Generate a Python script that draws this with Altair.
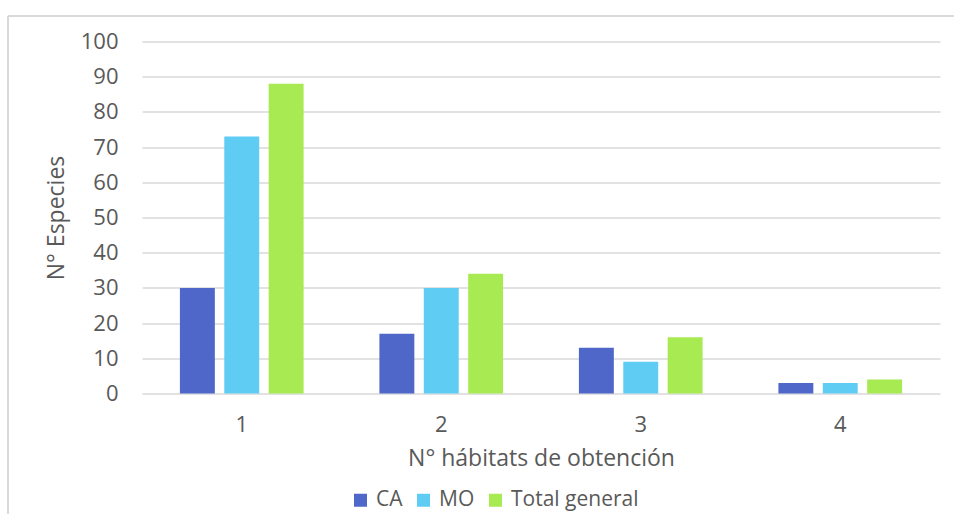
import altair as alt
import pandas as pd

# Number of habitats in which each species was obtained
habitats = ["1", "2", "3", "4"]
series = ["CA", "MO", "Total general"]
ca = [30, 17, 13, 3]
mo = [73, 30, 9, 3]
total = [88, 34, 16, 4]
y_ticks = [0, 10, 20, 30, 40, 50, 60, 70, 80, 90, 100]
colors = ["#4E67C8", "#5ECCF3", "#A7EA52"]

rows = []
for name, vals in zip(series, [ca, mo, total]):
    for h, v in zip(habitats, vals):
        rows.append({"habitats": h, "serie": name, "especies": v})
df = pd.DataFrame(rows)

FONT = "Open Sans"
TXT = "#595959"
GRID = "#D9D9D9"

bars = alt.Chart(df).mark_bar().encode(
    x=alt.X(
        "habitats:N",
        sort=habitats,
        scale=alt.Scale(paddingInner=0.38, paddingOuter=0.19),
        axis=alt.Axis(
            title="N° hábitats de obtención",
            labelAngle=0,
            ticks=False,
            domain=False,
            labelPadding=21,
            titlePadding=12,
        ),
    ),
    xOffset=alt.XOffset(
        "serie:N",
        sort=series,
        scale=alt.Scale(paddingInner=0.213, paddingOuter=0),
    ),
    y=alt.Y(
        "especies:Q",
        scale=alt.Scale(domain=[0, 100], nice=False),
        axis=alt.Axis(
            title="N° Especies",
            values=y_ticks,
            ticks=False,
            domain=False,
            labelPadding=24,
            titlePadding=12,
        ),
    ),
    color=alt.Color(
        "serie:N",
        sort=series,
        scale=alt.Scale(domain=series, range=colors),
        legend=alt.Legend(
            title=None,
            orient="none",
            direction="horizontal",
            legendX=208,
            legendY=448,
            symbolType="square",
            symbolSize=169,
            symbolStrokeWidth=0,
            labelOffset=5,
            columnPadding=10,
        ),
    ),
)

# Outer chart frame (top and left edges)
frame = alt.Data(values=[{}])
top_edge = alt.Chart(frame).mark_rule(color=GRID, strokeWidth=2).encode(
    x=alt.value(-134), x2=alt.value(830), y=alt.value(-25.5)
)
left_edge = alt.Chart(frame).mark_rule(color=GRID, strokeWidth=2).encode(
    x=alt.value(-134), y=alt.value(-25.5), y2=alt.value(490)
)

chart = (
    alt.layer(bars, top_edge, left_edge)
    .properties(
        width=798,
        height=352,
        autosize=alt.AutoSizeParams(type="none"),
        padding={"left": 142, "top": 41.5, "right": 14, "bottom": 120.5},
        background="white",
    )
    .configure_view(stroke=None)
    .configure_axis(
        labelFont=FONT,
        titleFont=FONT,
        labelColor=TXT,
        titleColor=TXT,
        labelFontSize=22,
        titleFontSize=23,
        titleFontWeight="normal",
        gridColor=GRID,
        gridWidth=1.5,
    )
    .configure_legend(
        labelFont=FONT,
        labelColor=TXT,
        labelFontSize=21,
    )
)

chart.save("out.html", embed_options={"renderer": "svg", "actions": False})
